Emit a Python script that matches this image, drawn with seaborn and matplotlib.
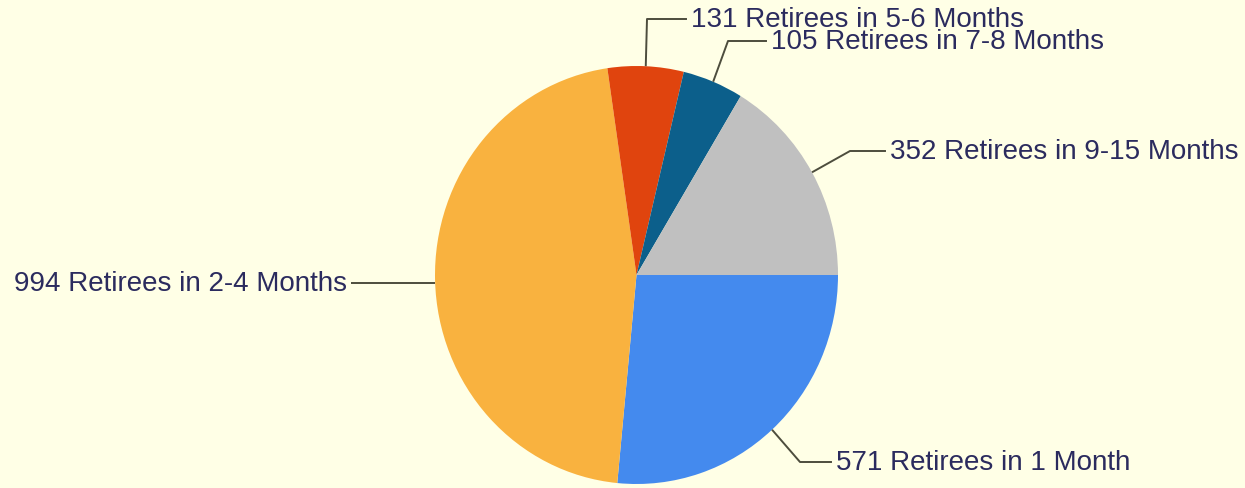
import numpy as np
import matplotlib
matplotlib.use("Agg")
import matplotlib.pyplot as plt
import seaborn as sns

# ---- data ----
categories = ["1 Month", "2-4 Months", "5-6 Months", "7-8 Months", "9-15 Months"]
retirees = [571, 994, 131, 105, 352]
colors = ["#448AEE", "#F9B23F", "#E0440E", "#0C5F8B", "#C0C0C0"]
labels = [f"{v} Retirees in {c}" for v, c in zip(retirees, categories)]

sns.set_theme(style="white")
plt.rcParams["font.family"] = ["Liberation Sans", "DejaVu Sans"]

W, H = 1245, 489
BG = "#FFFFE6"
fig = plt.figure(figsize=(W / 100, H / 100), dpi=100, facecolor=BG)
ax = fig.add_axes([0, 0, 1, 1])
ax.set_facecolor(BG)

# pie geometry in pixels (center and radii)
CX, CY, RX, RY = 636.5, 276.0, 201.5, 209.0

wedges, _ = ax.pie(retirees, colors=colors, startangle=0, counterclock=False,
                   radius=1, center=(0, 0), frame=False,
                   wedgeprops=dict(linewidth=0))
ax.set_aspect("auto")
ax.set_xlim(-CX / RX, (W - CX) / RX)
ax.set_ylim((CY - H) / RY, CY / RY)
ax.axis("off")


def px(x, y):
    """pixel (top-left origin) -> data coords"""
    return (x - CX) / RX, (CY - y) / RY


# layout of label elbows / text anchors (pixels): elbow point, text point, ha
layout = [
    ((800, 463), (836, 463), "left"),
    ((352, None), (347, None), "right"),
    ((647, 20), (691, 20), "left"),
    ((728, 42), (771, 42), "left"),
    ((850, 152), (890, 152), "left"),
]

line_col = "#4D4D3D"
text_col = "#2B2B5E"
for w, lab, (elbow, tpos, ha) in zip(wedges, labels, layout):
    ang = np.deg2rad((w.theta1 + w.theta2) / 2)
    ex, ey = np.cos(ang), np.sin(ang)
    if elbow[1] is None:
        ey_px = CY - ey * RY + 3
        bx, by = px(elbow[0], ey_px)
        tx, ty = px(tpos[0], ey_px)
        ey = by
    else:
        bx, by = px(*elbow)
        tx, ty = px(*tpos)
    lx_end = tx - 0.02 if ha == "left" else tx + 0.02
    ax.plot([ex, bx, lx_end], [ey, by, by], color=line_col, lw=1.4,
            solid_capstyle="butt", zorder=3)
    ax.text(tx, ty, lab, ha=ha, va="center", fontsize=20, color=text_col,
            zorder=4)

fig.savefig("out.png", dpi=100, facecolor=BG)
